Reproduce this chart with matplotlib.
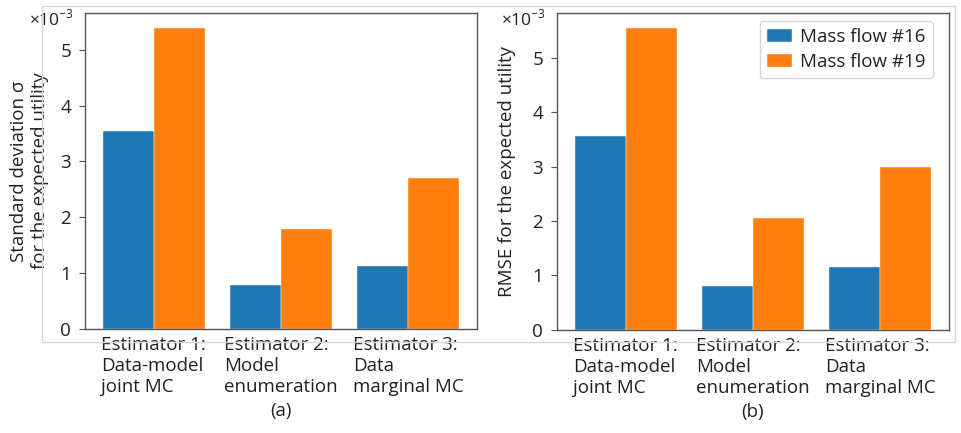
import matplotlib.pyplot as plt
import matplotlib.patches as mpatches
from matplotlib.ticker import FuncFormatter
import numpy as np

# --------------------------
# Data
# --------------------------
estimators = ["Estimator 1:\nData-model\njoint MC",
              "Estimator 2:\nModel\nenumeration",
              "Estimator 3:\nData\nmarginal MC"]
series_names = ["Mass flow #16", "Mass flow #19"]
std_flow16 = [3.55e-3, 0.79e-3, 1.13e-3]
std_flow19 = [5.39e-3, 1.79e-3, 2.71e-3]
rmse_flow16 = [3.565e-3, 0.81e-3, 1.15e-3]
rmse_flow19 = [5.54e-3, 2.06e-3, 2.99e-3]
colors = ["#1f77b4", "#ff7f0e"]

plt.rcParams['font.family'] = ['Open Sans', 'DejaVu Sans']
plt.rcParams['mathtext.fontset'] = 'custom'
plt.rcParams['mathtext.rm'] = 'Open Sans'
plt.rcParams['font.size'] = 13.5
text_color = '#222222'
spine_color = '#555555'

fig = plt.figure(figsize=(9.62, 4.33), dpi=100)
ax1 = fig.add_axes([0.0884, 0.2402, 0.4075, 0.7298])
ax2 = fig.add_axes([0.579, 0.2379, 0.4075, 0.7321])

# light frame around the panels
fig.patches.append(mpatches.Rectangle((0.0437, 0.2102), 0.949, 0.7758,
                                      transform=fig.transFigure, fill=False,
                                      edgecolor='#d8d8d8', linewidth=1))

x = np.arange(len(estimators))
w = 0.4

def draw_panel(ax, vals16, vals19, ylabel, panel_label, lpad):
    ax.bar(x - w / 2, vals16, w, color=colors[0], edgecolor='white', linewidth=0.3, label=series_names[0])
    ax.bar(x + w / 2, vals19, w, color=colors[1], edgecolor='white', linewidth=0.3, label=series_names[1])
    ax.set_xticks(x)
    ax.set_xticklabels(estimators, multialignment='left', color=text_color)
    ax.tick_params(axis='x', length=0, pad=5)
    ax.tick_params(axis='y', length=4, pad=6, color=spine_color, labelcolor=text_color)
    ax.set_yticks([0, 1e-3, 2e-3, 3e-3, 4e-3, 5e-3])
    ax.yaxis.set_major_formatter(FuncFormatter(lambda v, p: f"{v * 1e3:.0f}"))
    ax.text(-0.027, 0.981, r"$\times10^{-3}$", transform=ax.transAxes,
            ha='right', va='center', fontsize=12.5, color=text_color)
    ax.set_ylabel(ylabel, color=text_color, labelpad=lpad)
    ax.set_xlabel(panel_label, color=text_color, labelpad=5)
    for s in ax.spines.values():
        s.set_color(spine_color)
        s.set_linewidth(1)

draw_panel(ax1, std_flow16, std_flow19,
           "Standard deviation σ\nfor the expected utility", "(a)", 8)
draw_panel(ax2, rmse_flow16, rmse_flow19,
           "RMSE for the expected utility", "(b)", 12)

leg = ax2.legend(loc='upper right', fontsize=13.5, frameon=True,
                 bbox_to_anchor=(0.959, 0.975), borderaxespad=0,
                 handlelength=1.3, handletextpad=0.45, labelspacing=0.35)
for t in leg.get_texts():
    t.set_color(text_color)

fig.savefig("out.png", dpi=100)
